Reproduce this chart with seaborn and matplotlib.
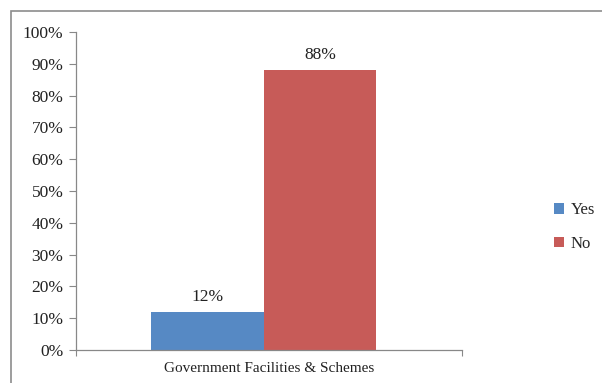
import matplotlib.pyplot as plt
import matplotlib.ticker as mticker
from matplotlib.patches import Rectangle, Patch
import seaborn as sns
import pandas as pd

categories = ['Government Facilities & Schemes']
responses = ['Yes', 'No']
values = [12, 88]
colors = ['#5689c4', '#c75b58']

df = pd.DataFrame({
    'category': categories * len(responses),
    'response': responses,
    'value': values,
})

sns.set_style('white')
plt.rcParams['font.family'] = ['Liberation Serif', 'DejaVu Serif']

fig = plt.figure(figsize=(6.02, 3.83), dpi=100)
ax = fig.add_axes([76 / 602, 1 - 350 / 383, (462 - 76) / 602, (350 - 32) / 383])

sns.barplot(data=df, x='category', y='value', hue='response', palette=colors,
            width=0.583, dodge=True, linewidth=0, saturation=1, ax=ax, legend=False)

for cont in ax.containers:
    ax.bar_label(cont, fmt='%d%%', padding=5, fontsize=12.5, color='#222222')

ax.set_ylim(0, 100)
ax.set_xlim(-0.486, 0.514)
ax.yaxis.set_major_locator(mticker.MultipleLocator(10))
ax.yaxis.set_major_formatter(mticker.PercentFormatter(decimals=0))
ax.set_xlabel('')
ax.set_ylabel('')

ax.set_xticks([0.014])
ax.set_xticklabels(categories)
ax.set_xticks([-0.486, 0.514], minor=True)
ax.tick_params(axis='x', which='major', length=0, pad=9, labelsize=11, labelcolor='#222222')
ax.tick_params(axis='x', which='minor', length=4, width=0.8, color='#888888', direction='out', bottom=True)
ax.tick_params(axis='y', length=5, width=0.8, color='#888888', direction='out', left=True,
               labelsize=12.5, labelcolor='#222222', pad=4)

for side in ['top', 'right']:
    ax.spines[side].set_visible(False)
for side in ['left', 'bottom']:
    ax.spines[side].set_color('#888888')
    ax.spines[side].set_linewidth(0.9)

handles = [Patch(facecolor=c, edgecolor='none') for c in colors]
fig.legend(handles, responses, loc='center left', bbox_to_anchor=(554 / 602, 1 - 227 / 383),
           frameon=False, fontsize=12, handlelength=0.6, handleheight=0.6,
           handletextpad=0.4, labelspacing=1.05, borderaxespad=0, borderpad=0)

# outer chart border
fig.patches.append(Rectangle((11 / 602, -0.1), 1.2, 1 - 11 / 383 + 0.1, transform=fig.transFigure,
                             fill=False, edgecolor='#8c8c8c', linewidth=1.2))

fig.savefig('out.png', dpi=100)
